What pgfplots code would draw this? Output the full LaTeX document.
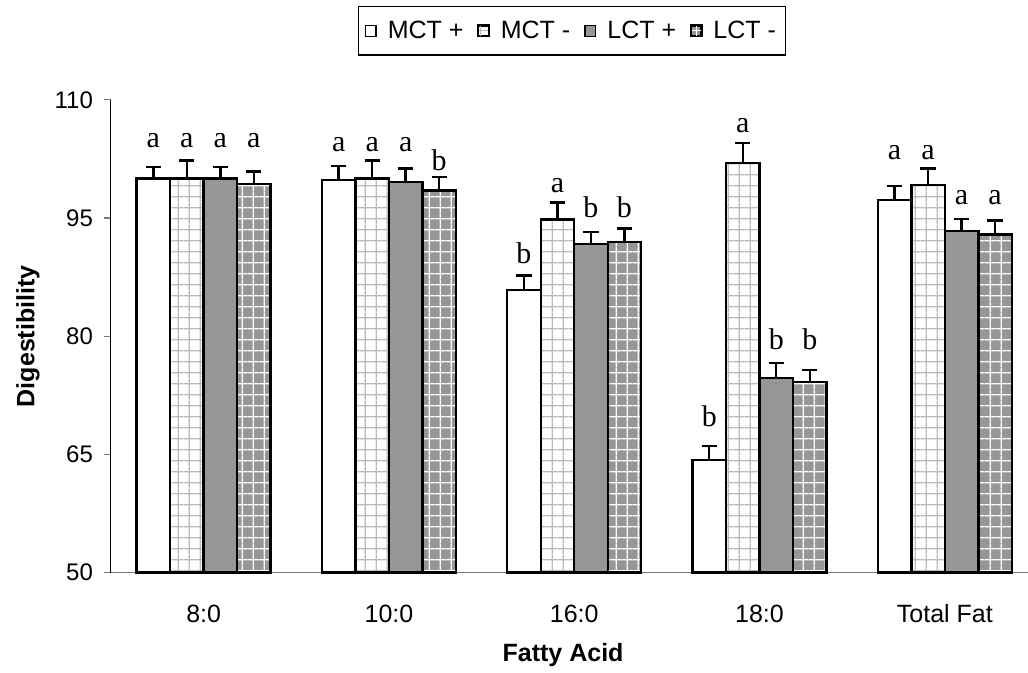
\documentclass[border=0pt]{standalone}
\usepackage{fontspec}
\setmainfont{Liberation Sans}
\newfontfamily\serifl{Liberation Serif}
\usepackage{pgfplots}
\usepackage{pgfplotstable}
\pgfplotsset{compat=1.18}
\usetikzlibrary{patterns}
\definecolor{barGray}{RGB}{150,150,150}
\definecolor{gridGray}{RGB}{185,185,185}
\definecolor{tickGray}{RGB}{120,120,120}
\pgfdeclarepatternformonly{mygrid}{\pgfpointorigin}{\pgfpoint{5.4pt}{5.4pt}}{\pgfpoint{5.4pt}{5.4pt}}{%
  \pgfsetlinewidth{0.6pt}%
  \pgfpathmoveto{\pgfpoint{0pt}{2.7pt}}\pgfpathlineto{\pgfpoint{5.4pt}{2.7pt}}%
  \pgfpathmoveto{\pgfpoint{2.7pt}{0pt}}\pgfpathlineto{\pgfpoint{2.7pt}{5.4pt}}%
  \pgfusepath{stroke}}

\pgfplotstableread{
x    y     e
0    100.0 1.5
1    99.8  1.8
2    85.9  1.8
3    64.3  1.8
4    97.3  1.8
}\mctp
\pgfplotstableread{
x    y     e
0    100.0 2.3
1    100.0 2.3
2    94.8  2.2
3    102.0 2.5
4    99.2  2.1
}\mctm
\pgfplotstableread{
x    y     e
0    100.0 1.5
1    99.6  1.7
2    91.7  1.5
3    74.7  1.9
4    93.4  1.5
}\lctp
\pgfplotstableread{
x    y     e
0    99.3  1.6
1    98.5  1.7
2    92.0  1.7
3    74.2  1.5
4    92.9  1.8
}\lctm

\begin{document}
\begin{tikzpicture}
\begin{axis}[
  at={(0,0)}, anchor=south west,
  scale only axis,
  width=458.5pt, height=236.4pt,
  xmin=-0.5, xmax=4.449,
  ymin=50, ymax=110,
  axis x line=bottom, axis y line=left,
  axis line style={-, line width=0.5pt},
  x axis line style={tickGray},
  ytick={50,65,80,95,110},
  xtick={0,1,2,3,4},
  xticklabels={8:0,10:0,16:0,18:0,Total Fat},
  major x tick style={draw=none},
  extra x ticks={0.5,1.5,2.5,3.5},
  extra x tick labels={},
  extra x tick style={major tick length=4pt, tick align=outside, tick style={draw=tickGray, line width=0.6pt}},
  tick align=outside,
  major tick length=3.5pt,
  y tick style={draw=tickGray, line width=0.6pt},
  /pgf/number format/assume math mode=true,
  yticklabel style={font=\fontsize{12}{14}\selectfont, xshift=-2pt},
  xticklabel style={font=\fontsize{12.5}{15}\selectfont, yshift=-9pt},
  xlabel={\textbf{Fatty Acid}},
  ylabel={\textbf{Digestibility}},
  every axis x label/.style={at={(axis description cs:0.493,-0.1735)}, anchor=center, font=\fontsize{12.5}{15}\selectfont},
  every axis y label/.style={at={(axis description cs:-0.0905,0.5)}, rotate=90, anchor=center, font=\fontsize{12.5}{15}\selectfont},
  legend columns=4,
  legend style={at={(axis description cs:0.503,1.146)}, anchor=center, draw=black, line width=0.6pt,
    font=\fontsize{12.5}{15}\selectfont, inner xsep=3pt, inner ysep=5pt,
    /tikz/every odd column/.append style={column sep=3.5pt},
    /tikz/every even column/.append style={column sep=5pt}},
  legend image code/.code={\draw[#1, line width=0.7pt] (0pt,-2.7pt) rectangle (5.4pt,2.7pt);},
  error bars/y dir=plus, error bars/y explicit,
  error bars/error bar style={line width=1.2pt, black},
  error bars/error mark options={rotate=90, line width=1.2pt, black, mark size=3.8pt},
  clip=false,
]
\addplot[ybar, bar width=0.1808, bar shift=0, draw=black, line width=1.2pt, fill=white]
  table[x expr=\thisrow{x}-0.2712, y=y, y error=e] {\mctp};
\addlegendentry{MCT +}
\addplot[ybar, bar width=0.1808, bar shift=0, draw=black, line width=1.2pt,
  preaction={fill=white}, pattern=mygrid, pattern color=gridGray]
  table[x expr=\thisrow{x}-0.0904, y=y, y error=e] {\mctm};
\addlegendentry{MCT -}
\addplot[ybar, bar width=0.1808, bar shift=0, draw=black, line width=1.2pt, fill=barGray]
  table[x expr=\thisrow{x}+0.0904, y=y, y error=e] {\lctp};
\addlegendentry{LCT +}
\addplot[ybar, bar width=0.1808, bar shift=0, draw=black, line width=1.2pt,
  preaction={fill=barGray}, pattern=mygrid, pattern color=white]
  table[x expr=\thisrow{x}+0.2712, y=y, y error=e] {\lctm};
\addlegendentry{LCT -}

\addplot[draw=none, mark=none, forget plot, error bars/y dir=none,
  nodes near coords, point meta=explicit symbolic,
  every node near coord/.append style={anchor=base, inner sep=0pt, font=\serifl\fontsize{15}{16}\selectfont}]
  coordinates {
  (-0.2712,103.9)[a] (-0.0904,103.9)[a] (0.0904,103.9)[a] (0.2712,103.9)[a]
  (0.7288,103.4)[a] (0.9096,103.4)[a] (1.0904,103.4)[a] (1.2712,101.1)[b]
  (1.7288,89.3)[b] (1.9096,98.3)[a] (2.0904,95.1)[b] (2.2712,95.1)[b]
  (2.7288,68.5)[b] (2.9096,105.8)[a] (3.0904,78.3)[b] (3.2712,78.3)[b]
  (3.7288,102.4)[a] (3.9096,102.4)[a] (4.0904,96.7)[a] (4.2712,96.7)[a]
  };
\end{axis}
\pgfresetboundingbox
\path (-55.5pt,-50.15pt) rectangle (458.5pt,286.35pt);
\end{tikzpicture}
\end{document}
